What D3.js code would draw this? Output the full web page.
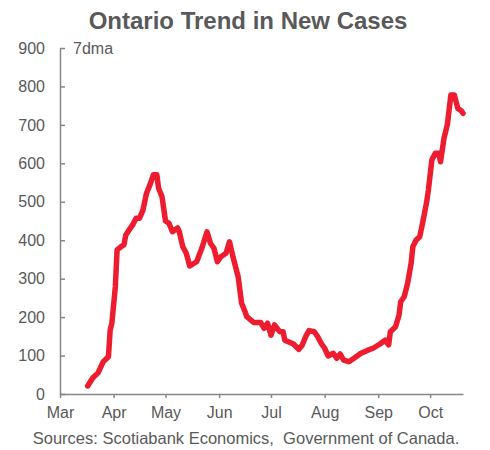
<!DOCTYPE html>
<html>
<head>
<meta charset="utf-8">
<script src="https://cdn.jsdelivr.net/npm/d3@7"></script>
<style>
  html, body { margin: 0; padding: 0; background: #fff; }
  svg { display: block; font-family: "Liberation Sans", Arial, sans-serif; }
</style>
</head>
<body>
<svg id="chart" width="490" height="450"></svg>
<script>
// ---- data (7-day moving average of new cases, Ontario, 2020) ----
const dates = [
  "2020-03-17","2020-03-20","2020-03-23","2020-03-26","2020-03-29","2020-03-30","2020-03-31",
  "2020-04-02","2020-04-03","2020-04-05","2020-04-07","2020-04-08","2020-04-10","2020-04-12",
  "2020-04-14","2020-04-16","2020-04-18","2020-04-20","2020-04-22","2020-04-24","2020-04-26",
  "2020-04-27","2020-04-29","2020-05-01","2020-05-03","2020-05-05","2020-05-08","2020-05-09",
  "2020-05-11","2020-05-13","2020-05-15","2020-05-19","2020-05-22","2020-05-25","2020-05-27",
  "2020-05-29","2020-05-31","2020-06-02","2020-06-05","2020-06-07","2020-06-09","2020-06-12",
  "2020-06-14","2020-06-16","2020-06-17","2020-06-21","2020-06-25","2020-06-27","2020-06-29",
  "2020-07-01","2020-07-03","2020-07-06","2020-07-08","2020-07-09","2020-07-11","2020-07-14",
  "2020-07-17","2020-07-19","2020-07-21","2020-07-23","2020-07-26","2020-07-28","2020-07-30",
  "2020-08-01","2020-08-03","2020-08-06","2020-08-08","2020-08-10","2020-08-12","2020-08-15",
  "2020-08-18","2020-08-22","2020-08-26","2020-08-29","2020-09-02","2020-09-05","2020-09-07",
  "2020-09-08","2020-09-11","2020-09-13","2020-09-14","2020-09-16","2020-09-18","2020-09-20",
  "2020-09-21","2020-09-23","2020-09-25","2020-09-27","2020-09-29","2020-09-30","2020-10-02",
  "2020-10-04","2020-10-06","2020-10-07","2020-10-09","2020-10-11","2020-10-13","2020-10-15",
  "2020-10-17","2020-10-19","2020-10-20"
];
const cases = [
  21, 42, 55, 84, 97, 166, 185,
  279, 375, 382, 388, 413, 427, 440,
  457, 457, 479, 522, 544, 570, 570,
  535, 513, 450, 444, 422, 432, 422,
  383, 366, 333, 344, 379, 422, 392,
  379, 344, 357, 366, 396, 357, 305,
  236, 214, 201, 186, 186, 171, 184,
  153, 180, 162, 162, 140, 136, 130,
  116, 127, 149, 165, 162, 149, 132,
  119, 99, 106, 93, 104, 88, 84,
  93, 106, 114, 119, 130, 140, 128,
  162, 175, 205, 240, 253, 288, 340,
  383, 401, 409, 453, 500, 531, 609,
  626, 626, 604, 665, 702, 778, 778,
  743, 737, 730
];
const yTicks = [0, 100, 200, 300, 400, 500, 600, 700, 800, 900];
const monthLabels = ["Mar", "Apr", "May", "Jun", "Jul", "Aug", "Sep", "Oct"];
const monthStarts = ["2020-03-01","2020-04-01","2020-05-01","2020-06-01","2020-07-01","2020-08-01","2020-09-01","2020-10-01"];
const titleText = "Ontario Trend in New Cases";
const unitText = "7dma";
const sourceText = "Sources: Scotiabank Economics,  Government of Canada.";

// ---- layout ----
const parse = d3.utcParse("%Y-%m-%d");
const data = dates.map((d, i) => ({ date: parse(d), value: cases[i] }));
const svg = d3.select("#chart");
const textColor = "#595959";
const axisColor = "#868686";
const fontFam = "Liberation Sans, Arial, sans-serif";

const x = d3.scaleUtc()
  .domain([parse("2020-03-01"), parse("2020-10-20")])
  .range([60, 463]);
const y = d3.scaleLinear().domain([0, 900]).range([394, 48]);

// title
svg.append("text")
  .attr("x", 248).attr("y", 29)
  .attr("text-anchor", "middle")
  .attr("font-size", 24).attr("font-weight", "bold")
  .attr("fill", textColor)
  .text(titleText);

// y axis
const yAxis = svg.append("g")
  .attr("transform", "translate(60,0)")
  .call(d3.axisLeft(y).tickValues(yTicks).tickSize(-5).tickSizeOuter(0).tickPadding(15));
yAxis.selectAll("text").attr("font-size", 16).attr("fill", textColor).attr("font-family", fontFam);

// x axis
const xAxis = svg.append("g")
  .attr("transform", "translate(0,394)")
  .call(d3.axisBottom(x).tickValues(monthStarts.map(parse))
    .tickFormat((d, i) => monthLabels[i]).tickSize(4).tickSizeOuter(0).tickPadding(9));
xAxis.selectAll("text").attr("font-size", 16).attr("fill", textColor).attr("font-family", fontFam);

svg.selectAll(".domain, .tick line").attr("stroke", axisColor).attr("stroke-width", 1.5);

// unit label
svg.append("text")
  .attr("x", 73).attr("y", 54)
  .attr("font-size", 16).attr("fill", textColor)
  .text(unitText);

// line
svg.append("path")
  .datum(data)
  .attr("fill", "none")
  .attr("stroke", "#ED1C2E")
  .attr("stroke-width", 5.5)
  .attr("stroke-linejoin", "round")
  .attr("stroke-linecap", "round")
  .attr("d", d3.line().x(d => x(d.date)).y(d => y(d.value)));

// source
svg.append("text")
  .attr("x", 246).attr("y", 444)
  .attr("text-anchor", "middle")
  .attr("font-size", 16.5).attr("fill", textColor)
  .attr("xml:space", "preserve")
  .style("white-space", "pre")
  .text(sourceText);
</script>
</body>
</html>
